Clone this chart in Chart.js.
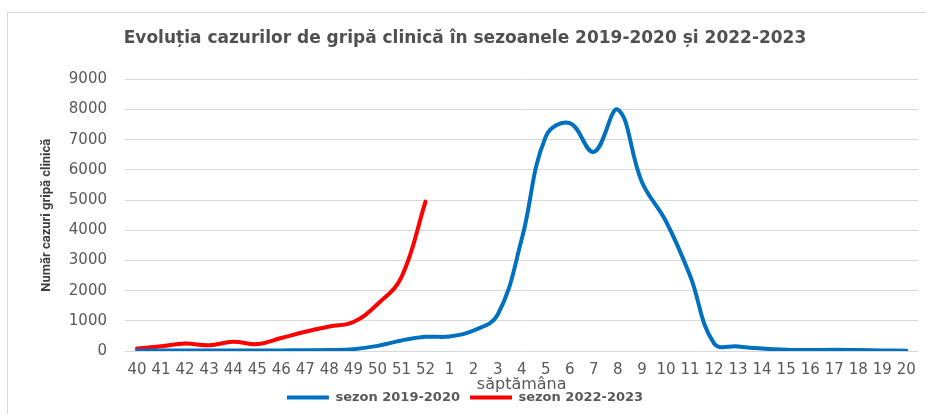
<!DOCTYPE html>
<html>
<head>
<meta charset="utf-8">
<script src="https://cdn.jsdelivr.net/npm/chart.js@4.4.0/dist/chart.umd.min.js"></script>
<style>
  body { margin: 0; background: #fff; overflow: hidden; }
  .frame { position: absolute; left: 7px; top: 12px; width: 960px; height: 500px; border: 1px solid #d9d9d9; }
  #myChart { position: absolute; left: 0; top: 0; }
</style>
</head>
<body>
<div class="frame"></div>
<canvas id="myChart" width="926" height="414"></canvas>
<script>
const ctx = document.getElementById('myChart');

// saptamanile 40-52 si 1-20
let weekLabels = ['40','41','42','43','44','45','46','47','48','49','50','51','52',
  '1','2','3','4','5','6','7','8','9','10','11','12','13','14','15','16','17','18','19','20']

let season1920 = [10, 15, 20, 20, 20, 20, 20, 25, 30, 60, 170, 350, 470,
  480, 680, 1200, 3700, 7100, 7550, 6600, 8000, 5600, 4300, 2500, 250, 150, 80, 40, 30, 40, 30, 20, 10]

let season2223 = [80, 155, 245, 190, 310, 230, 430, 640, 810, 960, 1550, 2450, 4950,
  null, null, null, null, null, null, null, null, null, null, null, null, null, null, null, null, null, null, null, null]

let seriesNames = ['sezon 2019-2020', 'sezon 2022-2023']

const gray = '#595959'

new Chart(ctx, {
  type: 'line',
  data: {
    labels: weekLabels,
    datasets: [{
      label: seriesNames[0],
      data: season1920,
      borderColor: '#0070C0',
      backgroundColor: '#0070C0',
      borderWidth: 4,
      borderCapStyle: 'round',
      tension: 0.4,
      pointRadius: 0
    }, {
      label: seriesNames[1],
      data: season2223,
      borderColor: '#FF0000',
      backgroundColor: '#FF0000',
      borderWidth: 4,
      borderCapStyle: 'round',
      tension: 0.4,
      pointRadius: 0
    }]
  },
  options: {
    responsive: false,
    animation: false,
    layout: {
      padding: { left: 10, right: 6, top: 0, bottom: 0 }
    },
    scales: {
      x: {
        offset: true,
        grid: { display: false, drawTicks: false },
        border: { display: false },
        ticks: {
          color: gray,
          padding: 10,
          maxRotation: 0,
          autoSkip: false,
          font: { family: 'DejaVu Sans', size: 15 }
        },
        title: {
          display: true,
          text: 'săptămâna',
          color: gray,
          padding: { top: 0, bottom: -13 },
          font: { family: 'DejaVu Sans', size: 16 }
        },
        afterFit(scale) { scale.height = 30 }
      },
      y: {
        min: 0,
        max: 9000,
        grid: { color: '#d9d9d9', drawTicks: false },
        border: { display: false },
        ticks: {
          stepSize: 1000,
          color: gray,
          padding: 18,
          font: { family: 'DejaVu Sans', size: 15 },
          callback: (v) => String(v)
        },
        title: {
          display: true,
          text: 'Număr cazuri gripă clinică',
          color: '#404040',
          padding: { top: 29, bottom: 0 },
          font: { family: "'Liberation Sans Narrow', Roboto, sans-serif", size: 13, weight: 'bold' }
        },
        afterFit(scale) { scale.width = 115 }
      }
    },
    plugins: {
      title: {
        display: true,
        text: 'Evoluția cazurilor de gripă clinică în sezoanele 2019-2020 și 2022-2023',
        color: '#505050',
        padding: { top: 28, bottom: 31 },
        font: { family: 'DejaVu Sans', size: 17, weight: 'bold' }
      },
      legend: {
        position: 'bottom',
        labels: {
          usePointStyle: true,
          pointStyle: 'line',
          pointStyleWidth: 42,
          padding: 10,
          color: gray,
          font: { family: 'DejaVu Sans', size: 13, weight: 'bold' }
        }
      },
      tooltip: { enabled: false }
    }
  }
});
</script>
</body>
</html>
